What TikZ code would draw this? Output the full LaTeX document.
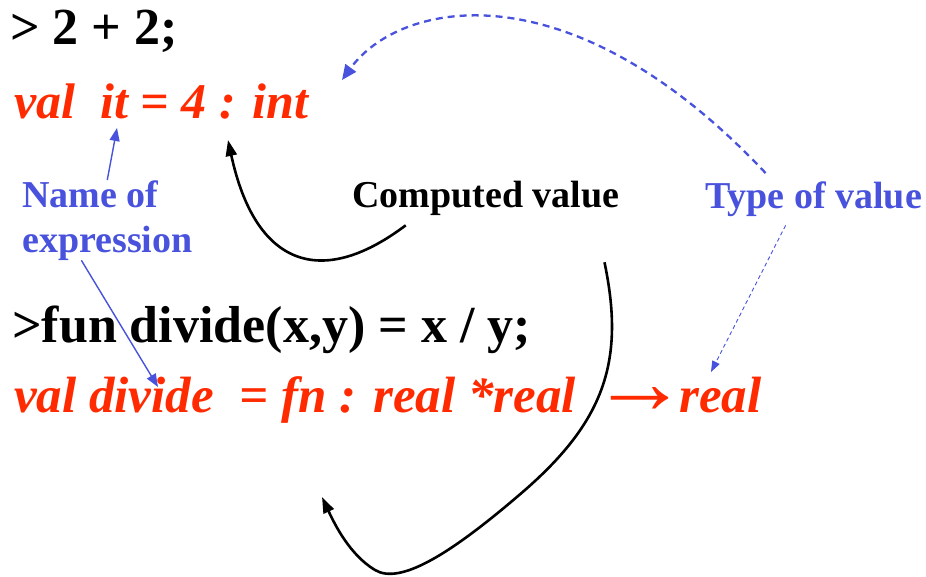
\documentclass[tikz,border=0pt]{standalone}
\usepackage{fontspec}
\usepackage{graphicx}
\setmainfont{Liberation Serif}
\usetikzlibrary{arrows.meta}

\definecolor{smlred}{RGB}{255,42,0}
\definecolor{noteblue}{RGB}{72,82,220}
\newcommand{\typearr}{\raisebox{-0.02em}{\scalebox{1.9}[1.8]{\upshape →}}}

\begin{document}
\begin{tikzpicture}[
    x=1pt, y=-1pt,
    code/.style={anchor=base west, inner sep=0pt,
      font=\fontsize{52}{54}\selectfont\bfseries},
    result/.style={code, text=smlred,
      font=\fontsize{50}{52}\selectfont\bfseries\itshape},
    note/.style={anchor=base west, inner sep=0pt,
      font=\fontsize{38}{40}\selectfont\bfseries},
    thinarrow/.style={-{Triangle[length=13pt,width=10pt]}, line width=1.4pt, noteblue},
    typearrow/.style={-{Triangle[length=15pt,width=13pt]}, line width=2.3pt, noteblue,
      dash pattern=on 7pt off 5pt},
    typehint/.style={-{Triangle[length=11pt,width=8pt]}, line width=0.9pt, noteblue,
      dash pattern=on 4pt off 3pt},
    valarrow/.style={-{Triangle[length=16pt,width=11pt]}, line width=2.6pt, black}
  ]
  \useasboundingbox (0,0) rectangle (926,576);
  %---- first session ----
  \node[code] (cmd1) at (10,44) {> 2 + 2;};
  \node[result] (res1) at (14,118) {val\ \ it = 4 : int};
  \coordinate (itname) at (117,128);
  \coordinate (itvalue) at (228,140);
  \coordinate (ittype) at (342,80);
  %---- labels ----
  \node[note, text=noteblue] (name1) at (22,207) {Name of};
  \node[note, text=noteblue] (name2) at (22,252) {expression};
  \node[note] (comp) at (352,207) {Computed value};
  \node[note, text=noteblue] (type) at (705,208) {Type of value};
  %---- second session ----
  \node[code] (cmd2) at (12,342) {>fun divide(x,y) = x / y;};
  \node[result, font=\fontsize{51}{54}\selectfont\bfseries\itshape] (res2) at (14,412)
    {val divide\ \ = fn : real *real\ \kern3pt\typearr\kern-9pt real};
  \coordinate (divname) at (158,387);
  \coordinate (divvalue) at (322,497);
  \coordinate (divtype) at (711,372);
  %---- connectors ----
  \draw[thinarrow] ([xshift=17pt]name1.north) -- (itname);
  \draw[thinarrow] ([xshift=-26pt]name2.south) -- (divname);
  \draw[valarrow] ([shift={(-80pt,-10pt)}]comp.south)
    .. controls (320,290) and (255,265) .. (itvalue);
  \draw[valarrow] ([shift={(-15pt,-47pt)}]comp.south east)
    .. controls (625,360) and (605,420) .. (525,490)
    .. controls (450,555) and (400,585) .. (375,570)
    .. controls (350,555) and (335,525) .. (divvalue);
  \draw[typearrow] ([shift={(-48pt,8pt)}]type.north)
    .. controls (570,-35) and (400,0) .. (ittype);
  \draw[typehint] ([shift={(-28pt,-9pt)}]type.south) -- (divtype);
\end{tikzpicture}
\end{document}
